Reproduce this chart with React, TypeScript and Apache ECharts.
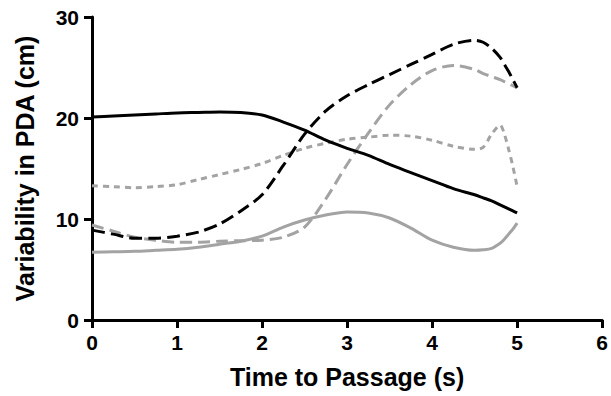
import React, { useEffect, useRef } from "react";
import * as echarts from "echarts";

const times = [0, 0.25, 0.5, 0.75, 1, 1.25, 1.5, 1.75, 2, 2.25, 2.5, 2.75, 3, 3.25, 3.5, 3.75, 4, 4.25, 4.5, 4.6, 4.7, 4.8, 4.85, 4.9, 4.95, 5];

const blackSolid = [20.1, 20.2, 20.3, 20.4, 20.5, 20.55, 20.6, 20.55, 20.3, 19.6, 18.8, 17.8, 17.0, 16.3, 15.4, 14.6, 13.8, 13.0, 12.4, 12.1, 11.8, 11.4, 11.2, 11.0, 10.8, 10.6];
const blackDashed = [8.9, 8.5, 8.1, 8.1, 8.3, 8.7, 9.5, 10.8, 12.4, 15.3, 18.4, 20.7, 22.2, 23.3, 24.3, 25.3, 26.3, 27.3, 27.7, 27.5, 26.9, 26.0, 25.3, 24.6, 23.8, 23.0];
const grayLongDashed = [9.4, 8.8, 8.2, 7.9, 7.7, 7.7, 7.8, 7.85, 7.9, 8.2, 9.2, 12.0, 15.4, 18.5, 21.3, 23.3, 24.7, 25.2, 24.8, 24.4, 24.1, 23.8, 23.6, 23.4, 23.2, 23.0];
const grayShortDashed = [13.3, 13.2, 13.1, 13.2, 13.4, 13.9, 14.4, 14.9, 15.5, 16.3, 17.0, 17.5, 17.9, 18.1, 18.3, 18.2, 17.8, 17.2, 16.9, 17.1, 18.4, 19.3, 18.4, 16.9, 15.2, 13.2];
const graySolid = [6.7, 6.75, 6.8, 6.9, 7.0, 7.2, 7.5, 7.8, 8.3, 9.2, 9.9, 10.4, 10.7, 10.6, 10.1, 9.1, 7.9, 7.2, 6.9, 6.95, 7.1, 7.6, 8.0, 8.5, 9.0, 9.6];

const xTicks = [0, 1, 2, 3, 4, 5, 6];
const yTicks = [0, 10, 20, 30];

const GRAY = "#a3a3a3";
const FONT = "Liberation Sans";

function pairs(vals: number[]) {
  return vals.map((v, i) => [times[i], v]);
}

export default function App() {
  const ref = useRef<HTMLDivElement>(null);
  useEffect(() => {
    document.body.style.margin = "0";
    const chart = echarts.init(ref.current!, undefined, { renderer: "svg" });
    const mk = (name: string, vals: number[], color: string, type: any) => ({
      name,
      type: "line",
      data: pairs(vals),
      smooth: 0.3,
      showSymbol: false,
      symbol: "none",
      lineStyle: { color, width: 3, type },
      z: 3,
    });
    chart.setOption({
      animation: false,
      backgroundColor: "#ffffff",
      grid: { left: 92, right: 6, top: 17, bottom: 76, containLabel: false },
      xAxis: {
        type: "value",
        min: xTicks[0],
        max: xTicks[xTicks.length - 1],
        interval: 1,
        name: "Time to Passage (s)",
        nameLocation: "middle",
        nameGap: 44,
        nameTextStyle: { fontFamily: FONT, fontWeight: "bold", fontSize: 25, color: "#000" },
        axisLine: { show: true, lineStyle: { color: "#000", width: 3 } },
        axisTick: { show: true, length: 8, lineStyle: { color: "#000", width: 3 } },
        axisLabel: { margin: 12, fontFamily: FONT, fontWeight: "bold", fontSize: 21, color: "#000" },
        splitLine: { show: false },
      },
      yAxis: {
        type: "value",
        min: yTicks[0],
        max: yTicks[yTicks.length - 1],
        interval: 10,
        name: "Variability in PDA (cm)",
        nameLocation: "middle",
        nameGap: 55,
        nameTextStyle: { fontFamily: FONT, fontWeight: "bold", fontSize: 25, color: "#000" },
        axisLine: { show: true, lineStyle: { color: "#000", width: 3 } },
        axisTick: { show: true, length: 8, lineStyle: { color: "#000", width: 3 } },
        axisLabel: { margin: 13, fontFamily: FONT, fontWeight: "bold", fontSize: 21, color: "#000" },
        splitLine: { show: false },
      },
      series: [
        mk("Gray solid", graySolid, GRAY, "solid"),
        mk("Gray short dashed", grayShortDashed, GRAY, [6, 5]),
        mk("Gray long dashed", grayLongDashed, GRAY, [12, 6]),
        mk("Black solid", blackSolid, "#000", "solid"),
        mk("Black dashed", blackDashed, "#000", [13, 6]),
      ],
    });
    return () => chart.dispose();
  }, []);
  return <div ref={ref} style={{ width: 611, height: 396 }} />;
}
